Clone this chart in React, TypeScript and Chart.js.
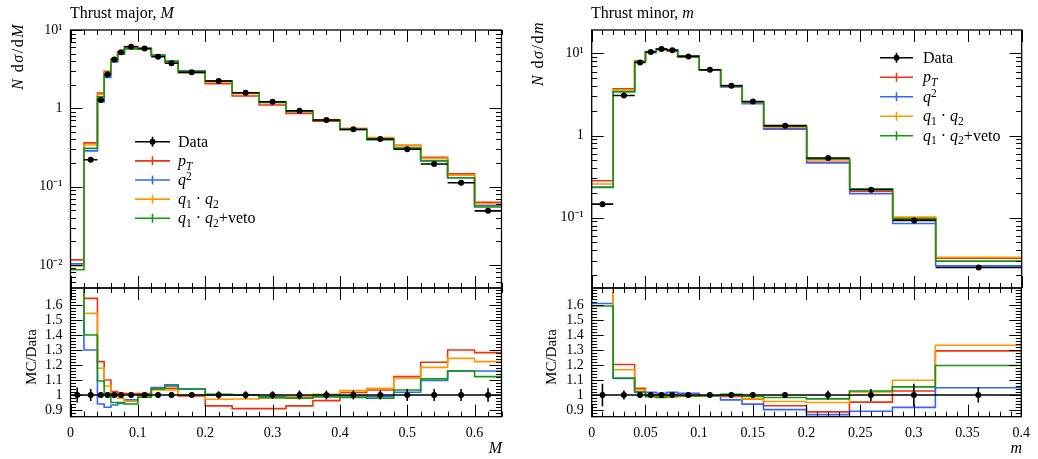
import React, { useEffect, useRef } from 'react';
import { Chart, registerables } from 'chart.js';

Chart.register(...registerables);

const FONT = "'Liberation Serif', 'Times New Roman', serif";
const W = 1038;
const H = 459;
const TOP = 30;
const MID = 288;
const BOT = 416.7;

// ---------------- Thrust major, M ----------------
const majorEdges = [0, 0.02, 0.04, 0.05, 0.06, 0.07, 0.08, 0.1, 0.12, 0.14, 0.16, 0.2, 0.24, 0.28, 0.32, 0.36, 0.4, 0.44, 0.48, 0.52, 0.56, 0.6, 0.64];
const majorData = [0.0045, 0.22, 1.28, 2.7, 4.2, 5.2, 6.1, 5.8, 4.56, 3.76, 2.88, 2.23, 1.58, 1.21, 0.93, 0.71, 0.54, 0.405, 0.3, 0.194, 0.112, 0.049];
const majorRelErr = [0.05, 0.04, 0.02, 0.02, 0.02, 0.02, 0.02, 0.02, 0.02, 0.02, 0.02, 0.025, 0.025, 0.025, 0.03, 0.03, 0.03, 0.03, 0.04, 0.04, 0.04, 0.045];
const majorRatioPT = [2.58, 1.644, 1.222, 1.1, 1.022, 1.011, 1.01, 1.01, 1.044, 1.044, 0.993, 0.927, 0.909, 0.909, 0.927, 0.962, 1.016, 1.033, 1.122, 1.218, 1.3, 1.282];
const majorRatioQ2 = [2.29, 1.3, 0.94, 0.918, 0.933, 0.95, 0.967, 1.0, 1.05, 1.067, 1.04, 1.0, 1.0, 0.989, 0.984, 0.989, 0.993, 0.989, 1.018, 1.096, 1.16, 1.16];
const majorRatioQ1Q2 = [2.16, 1.544, 1.178, 1.06, 1.004, 0.978, 0.956, 0.99, 1.033, 1.033, 1.0, 0.971, 0.973, 0.978, 0.989, 1.004, 1.029, 1.044, 1.111, 1.184, 1.244, 1.222];
const majorRatioVeto = [1.93, 1.4, 1.093, 1.01, 0.95, 0.944, 0.94, 0.985, 1.04, 1.06, 1.04, 1.004, 1.0, 0.984, 0.978, 0.989, 0.984, 0.978, 1.033, 1.107, 1.16, 1.122];

// ---------------- Thrust minor, m ----------------
const minorEdges = [0, 0.02, 0.04, 0.05, 0.06, 0.07, 0.08, 0.1, 0.12, 0.14, 0.16, 0.2, 0.24, 0.28, 0.32, 0.4];
const minorData = [0.146, 3.08, 7.77, 10.4, 11.3, 10.9, 9.2, 6.33, 4.04, 2.6, 1.32, 0.532, 0.219, 0.0925, 0.0247];
const minorRelErr = [0.075, 0.03, 0.02, 0.02, 0.02, 0.02, 0.02, 0.02, 0.02, 0.02, 0.02, 0.03, 0.04, 0.075, 0.05];
const minorRatioPT = [1.93, 1.203, 1.044, 1.0, 0.996, 0.989, 0.993, 0.995, 0.99, 0.972, 0.928, 0.887, 0.952, 1.026, 1.294];
const minorRatioQ2 = [1.61, 1.11, 1.02, 1.017, 1.011, 1.017, 1.011, 0.995, 0.967, 0.939, 0.902, 0.869, 0.891, 0.917, 1.048];
const minorRatioQ1Q2 = [1.76, 1.168, 1.033, 1.0, 0.99, 0.985, 0.99, 0.995, 0.996, 0.974, 0.956, 0.95, 1.02, 1.098, 1.331];
const minorRatioVeto = [1.593, 1.113, 1.02, 0.989, 0.983, 0.996, 0.993, 0.995, 1.004, 0.99, 0.983, 0.974, 1.026, 1.054, 1.196];

// ---------------- series / ticks ----------------
const seriesColors = ['#ee3311', '#3366ff', '#ff9900', '#119911'];

const majorXTicks = [0, 0.1, 0.2, 0.3, 0.4, 0.5, 0.6];
const majorXTickLabels = ['0', '0.1', '0.2', '0.3', '0.4', '0.5', '0.6'];
const minorXTicks = [0, 0.05, 0.1, 0.15, 0.2, 0.25, 0.3, 0.35, 0.4];
const minorXTickLabels = ['0', '0.05', '0.1', '0.15', '0.2', '0.25', '0.3', '0.35', '0.4'];
const majorYTicks = [0.01, 0.1, 1, 10];
const majorYTickLabels = ['10\u207B\u00B2', '10\u207B\u00B9', '1', '10\u00B9'];
const minorYTicks = [0.1, 1, 10];
const minorYTickLabels = ['10\u207B\u00B9', '1', '10\u00B9'];
const ratioYTicks = [0.9, 1, 1.1, 1.2, 1.3, 1.4, 1.5, 1.6];
const ratioYTickLabels = ['0.9', '1', '1.1', '1.2', '1.3', '1.4', '1.5', '1.6'];

function range(a: number, b: number, step: number) {
  const out: number[] = [];
  const n = Math.round((b - a) / step);
  for (let i = 0; i <= n; i++) out.push(+(a + i * step).toFixed(6));
  return out;
}
function logMinor(d0: number, d1: number) {
  const out: number[] = [];
  for (let d = d0; d <= d1; d++) for (let k = 2; k <= 9; k++) out.push(k * Math.pow(10, d));
  return out;
}

const panels: any = {
  major: {
    edges: majorEdges, data: majorData, relErr: majorRelErr,
    ratios: [majorRatioPT, majorRatioQ2, majorRatioQ1Q2, majorRatioVeto],
    xMin: 0, xMax: 0.64, yMin: 0.00507, yMax: 10,
    yTicks: majorYTicks, yTickLabels: majorYTickLabels,
    xTicks: majorXTicks, xTickLabels: majorXTickLabels,
    xMinor: range(0, 0.64, 0.02), yMinor: logMinor(-3, 1),
    left: 70.5, right: 501.5,
    legend: { x0: 135, x1: 170, ys: [141.7, 160.85, 180, 199.15, 218.3] },
  },
  minor: {
    edges: minorEdges, data: minorData, relErr: minorRelErr,
    ratios: [minorRatioPT, minorRatioQ2, minorRatioQ1Q2, minorRatioVeto],
    xMin: 0, xMax: 0.4, yMin: 0.0139, yMax: 19.3,
    yTicks: minorYTicks, yTickLabels: minorYTickLabels,
    xTicks: minorXTicks, xTickLabels: minorXTickLabels,
    xMinor: range(0, 0.4, 0.01), yMinor: logMinor(-2, 1),
    left: 591.7, right: 1021.7,
    legend: { x0: 880, x1: 913, ys: [57.7, 77.2, 96.7, 116.2, 135.7] },
  },
};

function stepPts(edges: number[], vals: number[]) {
  const pts = vals.map((v, i) => ({ x: edges[i], y: v }));
  pts.push({ x: edges[edges.length - 1], y: vals[vals.length - 1] });
  return pts;
}
function barPts(edges: number[], vals: number[]) {
  const pts: any[] = [];
  vals.forEach((v, i) => {
    pts.push({ x: edges[i], y: v }, { x: edges[i + 1], y: v }, { x: edges[i + 1], y: null });
  });
  return pts;
}
function errPts(edges: number[], vals: number[], rel: number[]) {
  const pts: any[] = [];
  vals.forEach((v, i) => {
    const c = (edges[i] + edges[i + 1]) / 2;
    pts.push({ x: c, y: v * (1 - rel[i]) }, { x: c, y: v * (1 + rel[i]) }, { x: c, y: null });
  });
  return pts;
}
function dotPts(edges: number[], vals: number[]) {
  return vals.map((v, i) => ({ x: (edges[i] + edges[i + 1]) / 2, y: v }));
}

const framePlugin = {
  id: 'rivetFrame',
  afterDraw(chart: any, _args: any, opts: any) {
    const { ctx, chartArea: a, scales } = chart;
    const xs = scales.x;
    const ys = scales.y;
    ctx.save();
    ctx.strokeStyle = '#000';
    ctx.lineWidth = 1;
    const inX = (v: number) => v >= xs.min - 1e-9 && v <= xs.max + 1e-9;
    const inY = (v: number) => v >= ys.min * (1 - 1e-9) && v <= ys.max * (1 + 1e-9);
    const xt = (vals: number[], len: number) => {
      vals.forEach((v) => {
        if (!inX(v)) return;
        const p = Math.round(xs.getPixelForValue(v)) + 0.5;
        ctx.beginPath();
        ctx.moveTo(p, a.top); ctx.lineTo(p, a.top + len);
        ctx.moveTo(p, a.bottom); ctx.lineTo(p, a.bottom - len);
        ctx.stroke();
      });
    };
    const yt = (vals: number[], len: number) => {
      vals.forEach((v) => {
        if (!inY(v)) return;
        const p = Math.round(ys.getPixelForValue(v)) + 0.5;
        ctx.beginPath();
        ctx.moveTo(a.left, p); ctx.lineTo(a.left + len, p);
        ctx.moveTo(a.right, p); ctx.lineTo(a.right - len, p);
        ctx.stroke();
      });
    };
    xt(opts.xMinor, 5);
    xt(opts.xMajor, 12);
    yt(opts.yMinor, 5.5);
    yt(opts.yMajor, 12);
    ctx.lineWidth = 1.3;
    ctx.strokeRect(a.left, a.top, a.right - a.left, a.bottom - a.top);

    const lg = opts.legend;
    if (lg) {
      lg.ys.forEach((y: number, i: number) => {
        const col = i === 0 ? '#000' : seriesColors[i - 1];
        const cx = (lg.x0 + lg.x1) / 2;
        ctx.strokeStyle = col;
        ctx.lineWidth = 1.6;
        ctx.beginPath();
        ctx.moveTo(lg.x0, y); ctx.lineTo(lg.x1, y);
        ctx.moveTo(cx, y - (i === 0 ? 5 : 4.5)); ctx.lineTo(cx, y + (i === 0 ? 5 : 4.5));
        ctx.stroke();
        if (i === 0) {
          ctx.fillStyle = '#000';
          ctx.beginPath();
          ctx.arc(cx, y, 3, 0, Math.PI * 2);
          ctx.fill();
        }
      });
    }
    ctx.restore();
  },
};

const tickFont = { family: FONT, size: 14 };

function dataSets(p: any, vals: number[], isRatio: boolean) {
  const rel = p.relErr;
  const sets: any[] = [];
  const mcOrder = [4, 3, 2, 1];
  p.ratios.forEach((r: number[], k: number) => {
    const v = isRatio ? r : r.map((x: number, i: number) => x * p.data[i]);
    sets.push({
      data: stepPts(p.edges, v), borderColor: seriesColors[k], borderWidth: 1.6,
      pointRadius: 0, stepped: 'before', fill: false, order: mcOrder[k],
    });
  });
  sets.push({ data: barPts(p.edges, vals), borderColor: '#000', borderWidth: 1.6, pointRadius: 0, order: 0, spanGaps: false });
  sets.push({ data: errPts(p.edges, vals, rel), borderColor: '#000', borderWidth: 1.6, pointRadius: 0, order: 0, spanGaps: false });
  sets.push({
    data: dotPts(p.edges, vals), showLine: false, pointRadius: 3, pointBackgroundColor: '#000',
    pointBorderWidth: 0, borderColor: '#000', order: 0,
  });
  return sets;
}

function mainConfig(key: string): any {
  const p = panels[key];
  const yW = 60;
  return {
    type: 'line',
    data: { datasets: dataSets(p, p.data, false) },
    plugins: [framePlugin],
    options: {
      animation: false, responsive: false, events: [],
      layout: { padding: { left: p.left - yW, top: TOP, right: W - p.right, bottom: H - MID } },
      plugins: {
        legend: { display: false }, tooltip: { enabled: false },
        rivetFrame: { xMajor: p.xTicks, xMinor: p.xMinor, yMajor: p.yTicks, yMinor: p.yMinor, legend: p.legend },
      },
      scales: {
        x: { type: 'linear', min: p.xMin, max: p.xMax, display: false },
        y: {
          type: 'logarithmic', min: p.yMin, max: p.yMax,
          afterFit: (s: any) => { s.width = yW; },
          afterBuildTicks: (s: any) => { s.ticks = p.yTicks.map((v: number) => ({ value: v })); },
          grid: { display: false, drawTicks: false }, border: { display: false },
          ticks: {
            padding: 8, font: tickFont, color: '#000', autoSkip: false,
            callback: (v: number) => { const i = p.yTicks.indexOf(v); return i >= 0 ? p.yTickLabels[i] : ''; },
          },
        },
      },
    },
  };
}

function ratioConfig(key: string): any {
  const p = panels[key];
  const yW = 60;
  const xH = 30;
  const ones = p.data.map(() => 1);
  return {
    type: 'line',
    data: { datasets: dataSets(p, ones, true) },
    plugins: [framePlugin],
    options: {
      animation: false, responsive: false, events: [],
      layout: { padding: { left: p.left - yW, top: MID, right: W - p.right, bottom: H - BOT - xH } },
      plugins: {
        legend: { display: false }, tooltip: { enabled: false },
        rivetFrame: { xMajor: p.xTicks, xMinor: p.xMinor, yMajor: ratioYTicks, yMinor: range(0.86, 1.7, 0.02) },
      },
      scales: {
        x: {
          type: 'linear', min: p.xMin, max: p.xMax,
          afterFit: (s: any) => { s.height = xH; },
          afterBuildTicks: (s: any) => { s.ticks = p.xTicks.map((v: number) => ({ value: v })); },
          grid: { display: false, drawTicks: false }, border: { display: false },
          ticks: {
            padding: 8, font: tickFont, color: '#000', autoSkip: false, maxRotation: 0,
            callback: (v: number) => { const i = p.xTicks.indexOf(v); return i >= 0 ? p.xTickLabels[i] : ''; },
          },
        },
        y: {
          type: 'linear', min: 0.855, max: 1.713,
          afterFit: (s: any) => { s.width = yW; },
          afterBuildTicks: (s: any) => { s.ticks = ratioYTicks.map((v) => ({ value: v })); },
          grid: { display: false, drawTicks: false }, border: { display: false },
          ticks: {
            padding: 8, font: tickFont, color: '#000', autoSkip: false,
            callback: (v: number) => { const i = ratioYTicks.indexOf(v); return i >= 0 ? ratioYTickLabels[i] : ''; },
          },
        },
      },
    },
  };
}

function ChartCanvas({ make }: { make: () => any }) {
  const ref = useRef<HTMLCanvasElement | null>(null);
  useEffect(() => {
    const c = new Chart(ref.current as HTMLCanvasElement, make());
    return () => c.destroy();
  }, []);
  return (
    <canvas ref={ref} width={W} height={H}
      style={{ position: 'absolute', left: 0, top: 0, width: W, height: H }} />
  );
}

function Txt({ x, baseline, size = 16, align = 'left', children }: any) {
  const style: any = {
    position: 'absolute', top: baseline - 0.84 * size, fontFamily: FONT, fontSize: size,
    lineHeight: `${size}px`, whiteSpace: 'nowrap', color: '#000',
  };
  if (align === 'left') style.left = x; else style.right = W - x;
  return <div style={style}>{children}</div>;
}

function VTxt({ cx, yEnd, yCenter, size = 14, spacing = 0, children }: any) {
  const boxW = 160;
  const top = yEnd !== undefined ? yEnd + boxW : yCenter + boxW / 2;
  return (
    <div style={{
      position: 'absolute', left: cx - size / 2, top, width: boxW, height: size,
      transform: 'rotate(-90deg)', transformOrigin: 'top left',
      textAlign: yEnd !== undefined ? 'right' : 'center', letterSpacing: spacing,
      fontFamily: FONT, fontSize: size, lineHeight: `${size}px`, whiteSpace: 'nowrap', color: '#000',
    }}>{children}</div>
  );
}

const sub = { fontSize: '0.72em', position: 'relative' as const, top: '0.32em' };
const sup = { fontSize: '0.72em', position: 'relative' as const, top: '-0.45em' };

const legendNodes = [
  <>Data</>,
  <><i>p</i><span style={sub}><i>T</i></span></>,
  <><i>q</i><span style={sup}>2</span></>,
  <><i>q</i><span style={sub}>1</span> · <i>q</i><span style={sub}>2</span></>,
  <><i>q</i><span style={sub}>1</span> · <i>q</i><span style={sub}>2</span>+veto</>,
];

export default function App() {
  const lm = panels.major.legend;
  const rm = panels.minor.legend;
  return (
    <div style={{ position: 'fixed', left: 0, top: 0, width: W, height: H, background: '#fff', overflow: 'hidden' }}>
      <ChartCanvas make={() => mainConfig('major')} />
      <ChartCanvas make={() => ratioConfig('major')} />
      <ChartCanvas make={() => mainConfig('minor')} />
      <ChartCanvas make={() => ratioConfig('minor')} />

      <Txt x={70} baseline={18}>Thrust major, <i>M</i></Txt>
      <Txt x={591} baseline={18}>Thrust minor, <i>m</i></Txt>
      <Txt x={502} baseline={453} align="right"><i>M</i></Txt>
      <Txt x={1022} baseline={453} align="right"><i>m</i></Txt>

      <VTxt cx={18} yEnd={23} size={16} spacing={1.5}><i>N</i> d<i>σ</i>/d<i>M</i></VTxt>
      <VTxt cx={31} yCenter={357} size={15}>MC/Data</VTxt>
      <VTxt cx={538} yEnd={21} size={16} spacing={1.5}><i>N</i> d<i>σ</i>/d<i>m</i></VTxt>
      <VTxt cx={551} yCenter={357} size={15}>MC/Data</VTxt>

      {legendNodes.map((n, i) => (
        <Txt key={'l' + i} x={lm.x1 + 8} baseline={lm.ys[i] + 5.5}>{n}</Txt>
      ))}
      {legendNodes.map((n, i) => (
        <Txt key={'r' + i} x={rm.x1 + 10} baseline={rm.ys[i] + 5.5}>{n}</Txt>
      ))}
    </div>
  );
}
